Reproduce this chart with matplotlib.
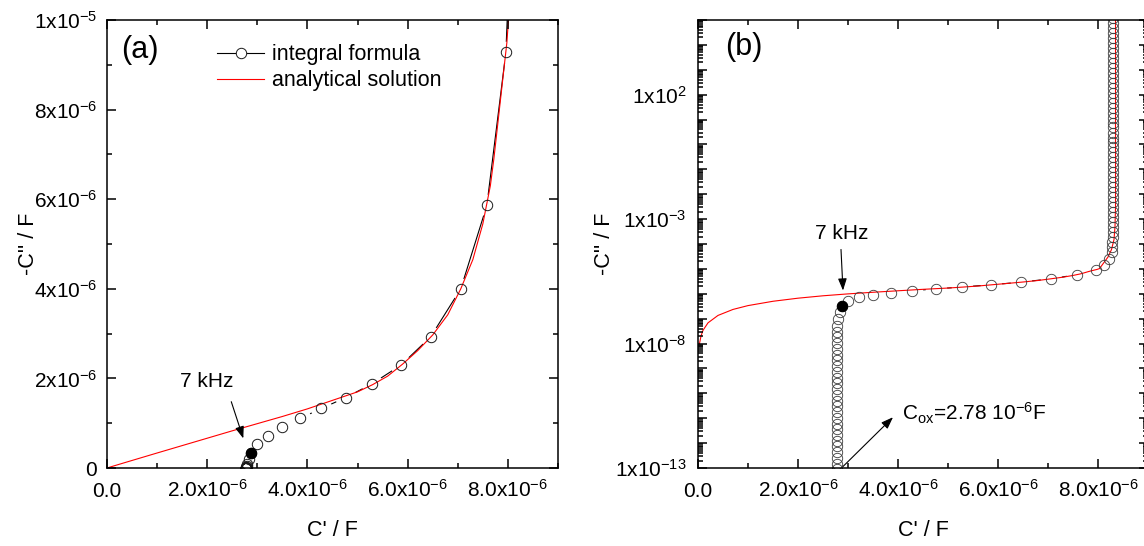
import matplotlib
matplotlib.use("Agg")
import numpy as np
import matplotlib.pyplot as plt
from matplotlib.ticker import FixedLocator, MultipleLocator, LogLocator, FuncFormatter, NullFormatter
from matplotlib.lines import Line2D

plt.rcParams['font.family'] = ['Liberation Sans', 'DejaVu Sans']
plt.rcParams['mathtext.fontset'] = 'custom'
plt.rcParams['mathtext.rm'] = 'Liberation Sans'
plt.rcParams['mathtext.it'] = 'Liberation Sans:italic'
plt.rcParams['mathtext.default'] = 'regular'

# ---------------------------------------------------------------- data (F)
# analytical solution, C' and -C''
anal_re = [0.03e-6, 0.06e-6, 0.10e-6, 0.20e-6, 0.40e-6, 0.70e-6, 1.00e-6, 1.50e-6,
           2.00e-6, 2.50e-6, 3.00e-6, 3.50e-6, 4.00e-6, 4.50e-6, 5.00e-6, 5.30e-6,
           5.60e-6, 5.90e-6, 6.20e-6, 6.50e-6, 6.80e-6, 7.06e-6, 7.30e-6, 7.50e-6,
           7.65e-6, 7.72e-6, 7.80e-6, 7.87e-6, 7.93e-6, 7.98e-6, 8.03e-6, 8.10e-6,
           8.20e-6, 8.27e-6, 8.32e-6, 8.34e-6, 8.35e-6, 8.35e-6]
anal_im = [1.0e-8, 2.0e-8, 3.4e-8, 6.8e-8, 1.35e-7, 2.35e-7, 3.35e-7, 5.0e-7,
           6.65e-7, 8.3e-7, 9.9e-7, 1.15e-6, 1.32e-6, 1.51e-6, 1.70e-6, 1.86e-6,
           2.05e-6, 2.32e-6, 2.62e-6, 2.97e-6, 3.42e-6, 4.00e-6, 4.65e-6, 5.45e-6,
           6.30e-6, 6.90e-6, 7.70e-6, 8.40e-6, 9.00e-6, 9.50e-6, 1.03e-5, 1.6e-5,
           3.0e-5, 6.0e-5, 1.5e-4, 5.0e-4, 3.0e-3, 1.0e6]

# integral formula, high-frequency branch (C' -> C_ox)
hf_re = [2.78e-6, 2.78e-6, 2.78e-6, 2.78e-6, 2.78e-6, 2.78e-6, 2.78e-6, 2.78e-6,
         2.78e-6, 2.78e-6, 2.78e-6, 2.78e-6, 2.78e-6, 2.78e-6, 2.78e-6, 2.78e-6,
         2.78e-6, 2.78e-6, 2.78e-6, 2.78e-6, 2.78e-6, 2.78e-6, 2.78e-6, 2.78e-6,
         2.78e-6, 2.785e-6, 2.80e-6, 2.83e-6]
hf_im = [8.8e-14, 1.5e-13, 2.55e-13, 4.3e-13, 7.4e-13, 1.25e-12, 2.1e-12, 3.6e-12,
         6.1e-12, 1.05e-11, 1.8e-11, 3.0e-11, 5.1e-11, 8.7e-11, 1.5e-10, 2.5e-10,
         4.3e-10, 7.3e-10, 1.25e-9, 2.1e-9, 3.6e-9, 6.1e-9, 1.05e-8, 1.8e-8,
         3.0e-8, 5.2e-8, 1.0e-7, 1.9e-7]

# 7 kHz point
knee_re = 2.87e-6
knee_im = 3.3e-7

# integral formula, intermediate frequencies
mid_re = [2.99e-6, 3.21e-6, 3.50e-6, 3.86e-6, 4.28e-6, 4.76e-6, 5.29e-6, 5.87e-6,
          6.46e-6, 7.06e-6, 7.58e-6, 7.96e-6]
mid_im = [5.3e-7, 7.1e-7, 9.2e-7, 1.11e-6, 1.33e-6, 1.57e-6, 1.88e-6, 2.30e-6,
          2.93e-6, 4.00e-6, 5.86e-6, 9.28e-6]

# integral formula, low-frequency branch
lf_re = [8.13e-6, 8.23e-6, 8.28e-6, 8.29e-6, 8.29e-6, 8.30e-6, 8.30e-6, 8.30e-6,
         8.30e-6, 8.30e-6, 8.30e-6, 8.30e-6, 8.30e-6, 8.30e-6, 8.30e-6, 8.30e-6,
         8.30e-6, 8.30e-6, 8.30e-6, 8.30e-6, 8.30e-6, 8.30e-6, 8.30e-6, 8.30e-6,
         8.30e-6, 8.30e-6, 8.30e-6, 8.30e-6, 8.30e-6, 8.30e-6, 8.30e-6, 8.30e-6,
         8.30e-6, 8.30e-6, 8.30e-6, 8.30e-6, 8.30e-6, 8.30e-6, 8.30e-6, 8.30e-6,
         8.30e-6, 8.30e-6, 8.30e-6, 8.30e-6, 8.30e-6, 8.30e-6, 8.30e-6, 8.30e-6,
         8.30e-6, 8.30e-6, 8.30e-6]
lf_im = [1.4e-5, 2.6e-5, 4.6e-5, 7.6e-5, 1.2e-4, 1.9e-4, 3.0e-4, 4.8e-4,
         7.6e-4, 1.2e-3, 1.9e-3, 3.0e-3, 4.8e-3, 7.6e-3, 1.2e-2, 1.9e-2,
         3.0e-2, 4.8e-2, 7.6e-2, 0.12, 0.19, 0.30, 0.48, 0.76,
         1.2, 1.9, 3.0, 4.8, 7.6, 12.0, 19.0, 30.0,
         48.0, 76.0, 120.0, 190.0, 300.0, 480.0, 760.0, 1.2e3,
         1.9e3, 3.0e3, 4.8e3, 7.6e3, 1.2e4, 1.9e4, 3.0e4, 4.8e4,
         7.6e4, 1.2e5, 1.9e5]

# tick labels
x_ticks = [0.0, 2e-6, 4e-6, 6e-6, 8e-6]
x_ticklabels = ["0.0", r"2.0x10$^{-6}$", r"4.0x10$^{-6}$", r"6.0x10$^{-6}$", r"8.0x10$^{-6}$"]
ya_ticks = [0.0, 2e-6, 4e-6, 6e-6, 8e-6, 1e-5]
ya_ticklabels = ["0", r"2x10$^{-6}$", r"4x10$^{-6}$", r"6x10$^{-6}$", r"8x10$^{-6}$", r"1x10$^{-5}$"]
yb_labelled = {-13: r"1x10$^{-13}$", -8: r"1x10$^{-8}$", -3: r"1x10$^{-3}$", 2: r"1x10$^{2}$"}

int_re = hf_re + [knee_re] + mid_re + lf_re
int_im = hf_im + [knee_im] + mid_im + lf_im

FS = 15
MS = 7.5

fig = plt.figure(figsize=(11.44, 5.46), dpi=100)
W, H = 1144.0, 546.0
ax1 = fig.add_axes([107 / W, 78 / H, 451 / W, 448 / H])
ax2 = fig.add_axes([698 / W, 78 / H, 450 / W, 448 / H])


def draw_series(ax, edge, mew):
    # connecting line, broken around each symbol
    ax.plot(int_re, int_im, color='black', lw=0.8, zorder=2.0)
    ax.plot(int_re, int_im, ls='none', marker='o', ms=MS + 8.0, mfc='white',
            mec='none', zorder=2.1)
    ax.plot(anal_re, anal_im, color='#ff0000', lw=0.8, zorder=2.2)
    ax.plot(int_re, int_im, ls='none', marker='o', ms=MS, mfc='none',
            mec=edge, mew=mew, zorder=2.3)
    ax.plot([knee_re], [knee_im], ls='none', marker='o', ms=MS, mfc='black',
            mec='black', mew=0.7, zorder=2.4)


def frame(ax):
    for s in ax.spines.values():
        s.set_linewidth(1.1)
        s.set_zorder(3)
    ax.set_axisbelow(False)
    ax.tick_params(which='both', direction='in', top=True, right=True,
                   width=1.1, labelsize=FS, colors='black')
    ax.tick_params(which='major', length=6.5)
    ax.tick_params(which='minor', length=3.6)
    ax.tick_params(axis='x', which='major', pad=21)
    ax.tick_params(axis='y', which='major', pad=7)
    ax.set_xlim(0, 9e-6)
    ax.xaxis.set_major_locator(FixedLocator(x_ticks))
    ax.xaxis.set_minor_locator(MultipleLocator(1e-6))
    ax.set_xticklabels(x_ticklabels)
    for t in ax.get_xticklabels():
        t.set_va('baseline')
    ax.set_xlabel("C' / F", fontsize=FS + 0.5)
    ax.xaxis.label.set_va('baseline')
    ax.xaxis.set_label_coords(0.5, -0.152)
    ax.set_ylabel("-C'' / F", fontsize=FS + 0.5)
    ax.yaxis.label.set_va('center')


# ---------------------------------------------------------------- panel (a)
draw_series(ax1, '#1a1a1a', 0.7)
frame(ax1)
ax1.set_ylim(0, 1e-5)
ax1.yaxis.set_major_locator(FixedLocator(ya_ticks))
ax1.yaxis.set_minor_locator(MultipleLocator(1e-6))
ax1.set_yticklabels(ya_ticklabels)
ax1.yaxis.set_label_coords(-0.175, 0.5)

ax1.text(0.073, 0.933, "(a)", transform=ax1.transAxes, fontsize=22,
         ha='center', va='center')
ax1.text(1.98e-6, 1.93e-6, "7 kHz", fontsize=FS, ha='center', va='center')
ax1.annotate("", xy=(2.72e-6, 0.66e-6), xytext=(2.48e-6, 1.48e-6),
             arrowprops=dict(arrowstyle='-|>,head_length=0.6,head_width=0.22',
                             color='black', lw=0.8, mutation_scale=12,
                             shrinkA=0, shrinkB=0), zorder=4)

h_int = Line2D([], [], color='black', lw=0.8, marker='o', ms=MS, mfc='white',
               mec='#1a1a1a', mew=0.7)
h_ana = Line2D([], [], color='#ff0000', lw=0.8)
ax1.legend([h_int, h_ana], ["integral formula", "analytical solution"],
           loc='upper left', bbox_to_anchor=(0.244, 0.946), frameon=False,
           fontsize=FS + 0.5, handlelength=2.2, handletextpad=0.33,
           labelspacing=0.24, borderpad=0, borderaxespad=0, numpoints=1)

# ---------------------------------------------------------------- panel (b)
draw_series(ax2, '#3a3a3a', 0.6)
frame(ax2)
ax2.set_yscale('log')
ax2.set_ylim(1e-13, 1e5)
ax2.yaxis.set_major_locator(LogLocator(base=10, numticks=40))
ax2.yaxis.set_minor_locator(LogLocator(base=10, subs=(2, 3, 4, 5, 6, 7, 8, 9), numticks=40))
ax2.yaxis.set_major_formatter(FuncFormatter(
    lambda v, p: yb_labelled.get(int(round(np.log10(v))), "") if v > 0 else ""))
ax2.yaxis.set_minor_formatter(NullFormatter())
ax2.tick_params(axis='y', which='major', pad=8)
ax2.yaxis.set_label_coords(-0.207, 0.5)

ax2.text(0.102, 0.940, "(b)", transform=ax2.transAxes, fontsize=22,
         ha='center', va='center')
ax2.text(2.88e-6, 10 ** -3.58, "7 kHz", fontsize=FS, ha='center', va='center')
ax2.annotate("", xy=(2.90e-6, 10 ** -5.87), xytext=(2.86e-6, 10 ** -4.22),
             arrowprops=dict(arrowstyle='-|>,head_length=0.6,head_width=0.22',
                             color='black', lw=0.8, mutation_scale=12,
                             shrinkA=0, shrinkB=0), zorder=4)
ax2.text(4.09e-6, 10 ** -10.81, r"C$_{ox}$=2.78 10$^{-6}$F", fontsize=FS,
         ha='left', va='center')
ax2.annotate("", xy=(3.90e-6, 10 ** -10.96), xytext=(2.90e-6, 10 ** -12.94),
             arrowprops=dict(arrowstyle='-|>,head_length=0.6,head_width=0.22',
                             color='black', lw=0.8, mutation_scale=12,
                             shrinkA=0, shrinkB=0), zorder=4)

fig.savefig("out.png", dpi=100)
